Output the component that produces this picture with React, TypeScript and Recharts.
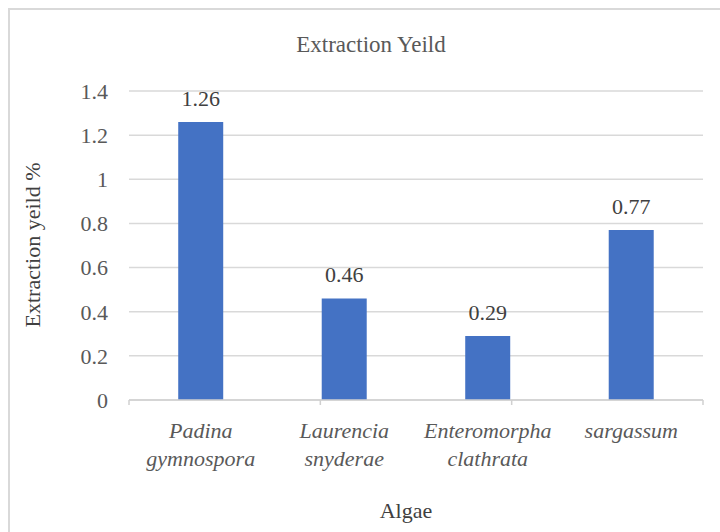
import React from "react";
import {
  BarChart,
  Bar,
  XAxis,
  YAxis,
  CartesianGrid,
  LabelList,
} from "recharts";

const categories = ["Padina gymnospora", "Laurencia snyderae", "Enteromorpha clathrata", "sargassum"];
const yieldValues = [1.26, 0.46, 0.29, 0.77];
const yTicks = [0, 0.2, 0.4, 0.6, 0.8, 1, 1.2, 1.4];
const boundaryTicks = [0, 1, 2, 3, 4];

const data = categories.map((name, i) => ({ name, value: yieldValues[i] }));

const FONT = "Liberation Serif, Times New Roman, serif";

const CategoryTick = (props: any) => {
  const { x, y, payload } = props;
  const words = String(payload.value).split(" ");
  return (
    <text
      x={x}
      y={y}
      textAnchor="middle"
      style={{ fontFamily: FONT, fontSize: 22, fontStyle: "italic" }}
      fill="#595959"
    >
      {words.map((w: string, i: number) => (
        <tspan key={i} x={x} dy={i === 0 ? 32 : 28}>
          {w}
        </tspan>
      ))}
    </text>
  );
};

const EmptyTick = () => <g />;

export default function App() {
  return (
    <div
      style={{
        position: "fixed",
        left: 0,
        top: 0,
        width: 720,
        height: 532,
        overflow: "hidden",
        background: "#ffffff",
      }}
    >
      <div
        style={{
          position: "absolute",
          left: 8,
          top: 8,
          width: 760,
          height: 560,
          border: "2px solid #d9d9d9",
          boxSizing: "border-box",
        }}
      />
      <div
        style={{
          position: "absolute",
          left: 0,
          top: 30,
          width: 742,
          textAlign: "center",
          fontFamily: FONT,
          fontSize: 23,
          color: "#595959",
          lineHeight: "30px",
        }}
      >
        Extraction Yeild
      </div>
      <div
        style={{
          position: "absolute",
          left: 33,
          top: 245,
          transform: "translate(-50%, -50%) rotate(-90deg)",
          whiteSpace: "nowrap",
          fontFamily: FONT,
          fontSize: 22,
          color: "#404040",
          lineHeight: "26px",
        }}
      >
        Extraction yeild %
      </div>
      <div
        style={{
          position: "absolute",
          left: 306,
          top: 497,
          width: 200,
          textAlign: "center",
          fontFamily: FONT,
          fontSize: 22,
          color: "#404040",
          lineHeight: "28px",
        }}
      >
        Algae
      </div>
      <div style={{ position: "absolute", left: 0, top: 0, fontFamily: FONT }}>
        <BarChart
          width={720}
          height={532}
          data={data}
          margin={{ top: 91, right: 17, left: 0, bottom: 46 }}
          barCategoryGap="34.3%"
          style={{ fontFamily: FONT }}
        >
          <CartesianGrid
            horizontal={true}
            vertical={false}
            stroke="#d9d9d9"
            strokeWidth={1.5}
            xAxisId="b"
          />
          <XAxis
            xAxisId="b"
            dataKey="name"
            type="category"
            axisLine={false}
            tickLine={false}
            tickSize={0}
            tickMargin={0}
            height={80}
            interval={0}
            tick={<CategoryTick />}
          />
          <XAxis
            xAxisId="a"
            type="number"
            domain={[0, 4]}
            ticks={boundaryTicks}
            interval={0}
            tick={<EmptyTick />}
            tickSize={5}
            axisLine={{ stroke: "#d0d0d0", strokeWidth: 1.5 }}
            tickLine={{ stroke: "#d0d0d0", strokeWidth: 1.5 }}
            height={6}
            allowDataOverflow
          />
          <YAxis
            type="number"
            domain={[0, 1.4]}
            ticks={yTicks}
            width={129}
            axisLine={false}
            tickLine={false}
            tickSize={0}
            tickMargin={21}
            tick={{ style: { fontFamily: FONT, fontSize: 22 }, fill: "#595959" }}
            interval={0}
          />
          <Bar
            xAxisId="b"
            dataKey="value"
            fill="#4472c4"
            isAnimationActive={false}
          >
            <LabelList
              dataKey="value"
              position="top"
              offset={16}
              style={{ fontFamily: FONT, fontSize: 22 }}
              fill="#404040"
            />
          </Bar>
        </BarChart>
      </div>
    </div>
  );
}
